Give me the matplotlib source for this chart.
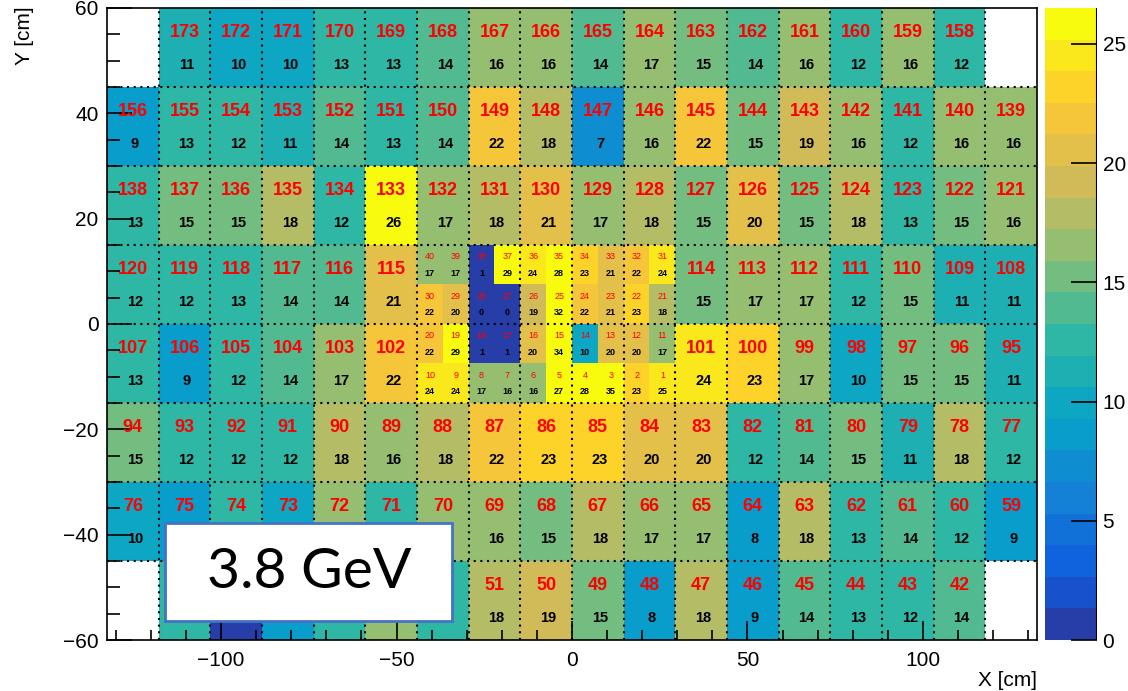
import numpy as np
import matplotlib
matplotlib.use("Agg")
import matplotlib.pyplot as plt
from matplotlib.colors import LinearSegmentedColormap, ListedColormap, Normalize
from matplotlib.patches import Rectangle
from matplotlib.ticker import MultipleLocator

plt.rcParams['font.family'] = ['Liberation Sans', 'DejaVu Sans']

# =============================
# DATA: big cells, rows from top (y 45..60) to bottom (y -60..-45)
# (row index, first column, cell ids, counts)
# =============================
ids_r0 = [173, 172, 171, 170, 169, 168, 167, 166, 165, 164, 163, 162, 161, 160, 159, 158]
val_r0 = [11, 10, 10, 13, 13, 14, 16, 16, 14, 17, 15, 14, 16, 12, 16, 12]

ids_r1 = [156, 155, 154, 153, 152, 151, 150, 149, 148, 147, 146, 145, 144, 143, 142, 141, 140, 139]
val_r1 = [9, 13, 12, 11, 14, 13, 14, 22, 18, 7, 16, 22, 15, 19, 16, 12, 16, 16]

ids_r2 = [138, 137, 136, 135, 134, 133, 132, 131, 130, 129, 128, 127, 126, 125, 124, 123, 122, 121]
val_r2 = [13, 15, 15, 18, 12, 26, 17, 18, 21, 17, 18, 15, 20, 15, 18, 13, 15, 16]

ids_r3a = [120, 119, 118, 117, 116, 115]
val_r3a = [12, 12, 13, 14, 14, 21]
ids_r3b = [114, 113, 112, 111, 110, 109, 108]
val_r3b = [15, 17, 17, 12, 15, 11, 11]

ids_r4a = [107, 106, 105, 104, 103, 102]
val_r4a = [13, 9, 12, 14, 17, 22]
ids_r4b = [101, 100, 99, 98, 97, 96, 95]
val_r4b = [24, 23, 17, 10, 15, 15, 11]

ids_r5 = [94, 93, 92, 91, 90, 89, 88, 87, 86, 85, 84, 83, 82, 81, 80, 79, 78, 77]
val_r5 = [15, 12, 12, 12, 18, 16, 18, 22, 23, 23, 20, 20, 12, 14, 15, 11, 18, 12]

ids_r6 = [76, 75, 74, 73, 72, 71, 70, 69, 68, 67, 66, 65, 64, 63, 62, 61, 60, 59]
val_r6 = [10, 9, 12, 10, 16, 13, 16, 16, 15, 18, 17, 17, 8, 18, 13, 14, 12, 9]

ids_r7 = [57, 56, 55, 54, 53, 52, 51, 50, 49, 48, 47, 46, 45, 44, 43, 42]
val_r7 = [13, 1, 9, 12, 17, 12, 18, 19, 15, 8, 18, 9, 14, 13, 12, 14]

# small cells in the centre, 4 rows of 10 (top to bottom)
ids_small = [[40, 39, 38, 37, 36, 35, 34, 33, 32, 31],
             [30, 29, 28, 27, 26, 25, 24, 23, 22, 21],
             [20, 19, 18, 17, 16, 15, 14, 13, 12, 11],
             [10, 9, 8, 7, 6, 5, 4, 3, 2, 1]]
val_small = [[17, 17, 1, 29, 24, 28, 23, 21, 22, 24],
             [22, 20, 0, 0, 19, 32, 22, 21, 23, 18],
             [22, 29, 1, 1, 20, 34, 10, 20, 20, 17],
             [24, 24, 17, 16, 16, 27, 28, 35, 23, 25]]

big_rows = [(0, 1, ids_r0, val_r0), (1, 0, ids_r1, val_r1), (2, 0, ids_r2, val_r2),
            (3, 0, ids_r3a, val_r3a), (3, 11, ids_r3b, val_r3b),
            (4, 0, ids_r4a, val_r4a), (4, 11, ids_r4b, val_r4b),
            (5, 0, ids_r5, val_r5), (6, 0, ids_r6, val_r6), (7, 1, ids_r7, val_r7)]

# labels fully covered by the "3.8 GeV" box in the original
hidden_ids = [57, 56, 55, 54, 53]
hidden_vals = [75, 74, 73, 72, 71]

# =============================
# ROOT kBird palette, 20 contours
# =============================
stops = [0.0, 0.125, 0.25, 0.375, 0.5, 0.625, 0.75, 0.875, 1.0]
red = [0.2082, 0.0592, 0.0780, 0.0232, 0.1802, 0.5301, 0.8186, 0.9956, 0.9764]
green = [0.1664, 0.3599, 0.5041, 0.6419, 0.7178, 0.7492, 0.7328, 0.7862, 0.9832]
blue = [0.5293, 0.8684, 0.8385, 0.7914, 0.6425, 0.4662, 0.3499, 0.1968, 0.0539]
bird = LinearSegmentedColormap.from_list('bird', list(zip(stops, zip(red, green, blue))), N=255)
ncont = 20
cols = [bird(int((i + 0.99) * 255 / ncont)) for i in range(ncont)]
cmap = ListedColormap(cols)
norm = Normalize(vmin=0, vmax=26.5)

# =============================
# GRID (half-cell resolution)
# =============================
ncol, nrow = 18, 8
x_edges = np.linspace(-132.5, 132.5, 2 * ncol + 1)
y_edges = np.linspace(60, -60, 2 * nrow + 1)
grid = np.full((2 * nrow, 2 * ncol), np.nan)

for r, c0, ids, vals in big_rows:
    for k, v in enumerate(vals):
        c = c0 + k
        grid[2 * r:2 * r + 2, 2 * c:2 * c + 2] = v
for i in range(4):
    for j in range(10):
        grid[6 + i, 12 + j] = val_small[i][j]

fig = plt.figure(figsize=(11.28, 6.91), dpi=100)
ax = fig.add_axes([107 / 1128, 1 - 640 / 691, 930 / 1128, 632 / 691])
mesh = ax.pcolormesh(x_edges, y_edges, np.ma.masked_invalid(grid), cmap=cmap, norm=norm)

# labels on big cells
for r, c0, ids, vals in big_rows:
    for k, (cid, v) in enumerate(zip(ids, vals)):
        c = c0 + k
        xc = (x_edges[2 * c] + x_edges[2 * c + 2]) / 2
        yc = (y_edges[2 * r] + y_edges[2 * r + 2]) / 2
        if cid not in hidden_ids:
            ax.text(xc, yc + 2.9, str(cid), color='red', fontsize=13, fontweight='bold',
                    ha='center', va='center', zorder=4)
        if cid not in hidden_ids and cid not in hidden_vals:
            ax.text(xc + 0.6, yc - 3.3, str(v), color='black', fontsize=10.5,
                    fontweight='bold', ha='center', va='center', zorder=4)

# labels on small cells
for i in range(4):
    for j in range(10):
        xc = (x_edges[12 + j] + x_edges[13 + j]) / 2
        yc = (y_edges[6 + i] + y_edges[7 + i]) / 2
        ax.text(xc, yc + 1.5, str(ids_small[i][j]), color='red', fontsize=6.5,
                ha='center', va='center', zorder=4)
        ax.text(xc, yc - 1.6, str(val_small[i][j]), color='black', fontsize=6.5,
                fontweight='bold', ha='center', va='center', zorder=4)

# dotted cell borders
for x in x_edges[2:-1:2]:
    ax.axvline(x, color='black', lw=1.5, ls=(0, (1, 2.2)), zorder=3)
for y in y_edges[2:-1:2]:
    ax.axhline(y, color='black', lw=1.5, ls=(0, (1, 2.2)), zorder=3)

ax.set_xlim(-132.5, 132.5)
ax.set_ylim(-60, 60)
ax.set_xticks([-100, -50, 0, 50, 100])
ax.xaxis.set_minor_locator(MultipleLocator(10))
ax.yaxis.set_major_locator(MultipleLocator(20))
ax.yaxis.set_minor_locator(MultipleLocator(5))
ax.tick_params(which='both', direction='in', top=False, right=False, width=1.2,
               labelsize=15, zorder=5)
ax.tick_params(axis='x', which='major', length=14, pad=8)
ax.tick_params(axis='x', which='minor', length=7)
ax.tick_params(axis='y', which='major', length=18, pad=6)
ax.tick_params(axis='y', which='minor', length=9)
for s in ax.spines.values():
    s.set_linewidth(1.2)
    s.set_zorder(5)

# colour bar
cax = fig.add_axes([1045 / 1128, 1 - 640 / 691, 52 / 1128, 632 / 691])
cb = fig.colorbar(mesh, cax=cax)
cb.set_ticks([0, 5, 10, 15, 20, 25])
cb.minorticks_off()
cb.outline.set_visible(False)
cax.axvline(1, color='black', lw=1.5)
cax.tick_params(direction='in', length=19, width=1.2, labelsize=15, pad=4)

fig.text(25 / 1128, 1 - 6 / 691, 'Y [cm]', rotation=90, ha='center', va='top', fontsize=15)
fig.text(1037 / 1128, 1 - 680 / 691, 'X [cm]', ha='right', va='center', fontsize=15)

# energy label box
fig.add_artist(Rectangle((165 / 1128, 1 - 621 / 691), 287 / 1128, 98 / 691,
                         transform=fig.transFigure, facecolor='white',
                         edgecolor='#4472c4', lw=2, zorder=6))
fig.text(309 / 1128, 1 - 573 / 691, '3.8 GeV', fontsize=41, family='Lato',
         ha='center', va='center', zorder=7)

fig.savefig('out.png', dpi=100)
